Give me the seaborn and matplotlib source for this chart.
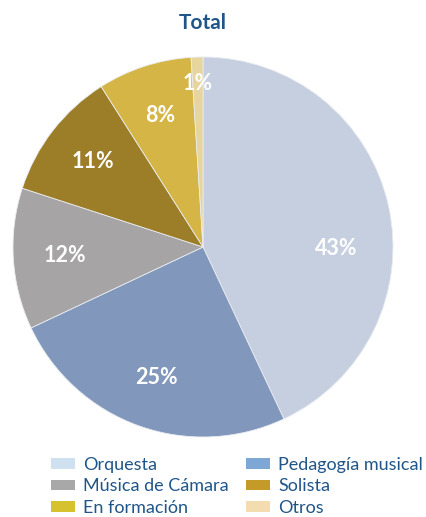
import matplotlib
matplotlib.use("Agg")
import matplotlib.pyplot as plt
from matplotlib.patches import Patch
import seaborn as sns

# Share of each professional activity
categories = ["Orquesta", "Pedagogía musical", "Música de Cámara",
              "Solista", "En formación", "Otros"]
shares = [43, 25, 12, 11, 8, 1]

slice_colors = ["#c6cfdf", "#8197bb", "#a6a4a4", "#9c7d28", "#d5b545", "#e6d59d"]
legend_colors = ["#cfe0f0", "#7ea7d6", "#a9a8a8", "#c49a28", "#d6c12e", "#f2dcb0"]

sns.set_theme(style="white")
plt.rcParams["font.family"] = ["Lato", "DejaVu Sans"]

text_blue = "#1f5588"

fig = plt.figure(figsize=(4.27, 5.17), dpi=100)
fig.patch.set_facecolor("white")

# pie axes: centre at (203, 247) px, radius 190 px
W, H = 427, 517
cx, cy, r = 203, 247, 190
ax = fig.add_axes([(cx - r) / W, (H - cy - r) / H, 2 * r / W, 2 * r / H])

wedges, texts, autotexts = ax.pie(
    shares,
    colors=slice_colors,
    startangle=90,
    counterclock=False,
    autopct="%d%%",
    pctdistance=0.73,
    wedgeprops=dict(edgecolor="#e9ecf1", linewidth=0.6),
    textprops=dict(color="white", fontsize=15.5, fontweight="bold"),
)
ax.set_xlim(-1, 1)
ax.set_ylim(-1, 1)
ax.set_aspect("equal")
ax.axis("off")

# labels placed off the slice middle for the largest and smallest slices
autotexts[0].set_position((0.70, -0.01))
autotexts[5].set_position((-0.03, 0.86))

fig.text(cx / W, 1 - 23 / H, "Total", ha="center", va="center",
         fontsize=15, fontweight="bold", color=text_blue)

# two legend columns, each anchored at its own x position
legend_kw = dict(loc="upper left", frameon=False, fontsize=13,
                 handlelength=1.35, handleheight=0.55, handletextpad=0.42,
                 labelspacing=0.3, borderaxespad=0, borderpad=0)
columns = [([0, 2, 4], 51), ([1, 3, 5], 246)]
for idx, x0 in columns:
    handles = [Patch(facecolor=legend_colors[i], edgecolor="none",
                     label=categories[i]) for i in idx]
    leg = fig.legend(handles=handles, bbox_to_anchor=(x0 / W, 1 - 457 / H),
                     **legend_kw)
    for t in leg.get_texts():
        t.set_color(text_blue)

fig.savefig("out.png", dpi=100, facecolor="white")
